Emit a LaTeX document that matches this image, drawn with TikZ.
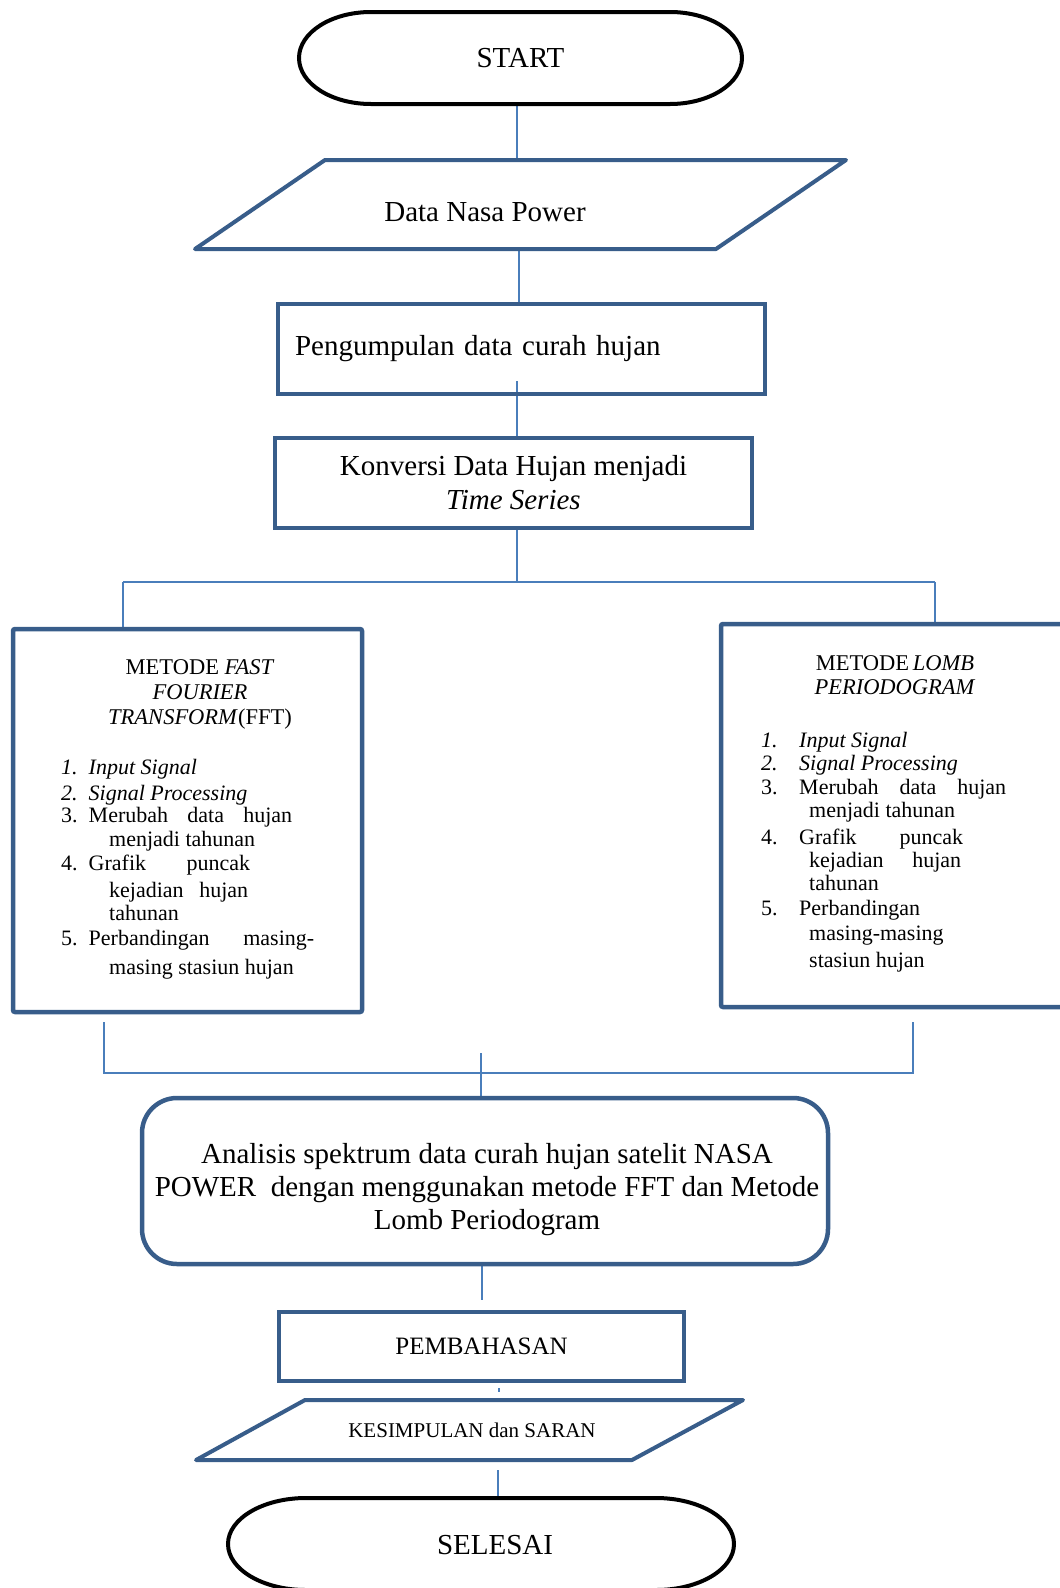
\documentclass[tikz,border=0pt]{standalone}
\usepackage{fontspec}
\setmainfont{Liberation Serif}
\usetikzlibrary{calc}
\definecolor{boxblue}{HTML}{385D8A}
\definecolor{lineblue}{HTML}{4A7EBB}
\pgfdeclarelayer{bg}
\pgfsetlayers{bg,main}
\begin{document}
\begin{tikzpicture}[x=1pt,y=-1pt,
  conn/.style={draw=lineblue,line width=1.5pt},
  bbox/.style={draw=boxblue,line width=4pt,fill=none},
  big/.style={font=\fontsize{29}{34}\selectfont},
  lst/.style={font=\fontsize{22}{25}\selectfont,inner sep=0pt,anchor=base west},
  ttl/.style={font=\fontsize{22.5}{25}\selectfont,inner sep=0pt,anchor=base},
  term/.style={draw=black,line width=4pt},
]
\useasboundingbox (0,0) rectangle (1060,1588);
\clip (0,0) rectangle (1060,1588);

% coordinates for connector ends
\coordinate (dtop) at (517,159);
\coordinate (dbot) at (519,250);
\coordinate (ax) at (517,0);
\coordinate (j1) at (517,582);
\coordinate (jl) at (123,582);
\coordinate (jr) at (935,582);
\coordinate (jbl) at (104,1073);
\coordinate (jbr) at (913,1073);
\coordinate (jc) at (481,1053);
\coordinate (pe) at (482,1300);
\coordinate (ks) at (499,1392);
\coordinate (kb) at (498,1470);
\coordinate (selt) at (481,1496);

% START
\node[big,minimum width=447pt,minimum height=96pt,inner sep=0pt] (start) at (520.5,58) {START};
\draw[term] (371,12) -- (670,12) arc[start angle=90,end angle=-90,x radius=72pt,y radius=46pt]
  -- (371,104) arc[start angle=270,end angle=90,x radius=72pt,y radius=46pt] -- cycle;

% Data Nasa Power
\draw[bbox,line join=round] (325,160) -- (846,160) -- (716,249) -- (195,249) -- cycle;
\node[big,inner sep=0pt] (data) at (485,212) {Data Nasa Power};

% Pengumpulan
\node[big,bbox,minimum width=487pt,minimum height=90pt,text width=453pt,inner xsep=17pt,align=left] (peng) at (521.5,349) {Pengumpulan data curah hujan};

% Konversi
\node[big,bbox,minimum width=477pt,minimum height=90pt,align=center] (konv) at (513.5,483) {Konversi Data Hujan menjadi\\\textit{Time Series}};

% FFT box
\node[bbox,line width=4.5pt,rounded corners=2pt,minimum width=349pt,minimum height=383pt] (fft) at (187.5,820.5) {};
\node[ttl] (ft1) at (200,674) {METODE \textit{FAST}};
\node[ttl] (ft2) at (200,699) {\textit{FOURIER}};
\node[ttl] (ft3) at (200,724) {\textit{TRANSFORM}(FFT)};
\node[lst] (f1) at (61,774) {\itshape\makebox[27.5pt][l]{1.}Input Signal};
\node[lst] (f2) at (61,800) {\itshape\makebox[27.5pt][l]{2.}Signal Processing};
\node[lst] (f3) at (61,822) {\makebox[27.5pt][l]{3.}\makebox[203.5pt][s]{Merubah data hujan}};
\node[lst] (f3b) at (109,846) {menjadi tahunan};
\node[lst] (f4) at (61,870) {\makebox[27.5pt][l]{4.}\makebox[161.5pt][s]{Grafik puncak}};
\node[lst] (f4b) at (109,897) {\makebox[139pt][s]{kejadian hujan}};
\node[lst] (f4c) at (109,920) {tahunan};
\node[lst] (f5) at (61,945) {\makebox[27.5pt][l]{5.}\makebox[225.5pt][s]{Perbandingan masing-}};
\node[lst] (f5b) at (109,974) {masing stasiun hujan};

% Lomb box
\node[bbox,line width=4.5pt,rounded corners=2pt,minimum width=354pt,minimum height=383pt] (lomb) at (898,815.5) {};
\node[ttl] (lt1) at (895,670) {METODE\,\textit{LOMB}};
\node[ttl] (lt2) at (895,694) {\textit{PERIODOGRAM}};
\node[lst] (l1) at (761,747) {\itshape\makebox[38pt][l]{1.}Input Signal};
\node[lst] (l2) at (761,770) {\itshape\makebox[38pt][l]{2.}Signal Processing};
\node[lst] (l3) at (761,794) {\makebox[38pt][l]{3.}\makebox[207pt][s]{Merubah data hujan}};
\node[lst] (l3b) at (809,817) {menjadi tahunan};
\node[lst] (l4) at (761,844) {\makebox[38pt][l]{4.}\makebox[164pt][s]{Grafik puncak}};
\node[lst] (l4b) at (809,867) {\makebox[152pt][s]{kejadian hujan}};
\node[lst] (l4c) at (809,890) {tahunan};
\node[lst] (l5) at (761,915) {\makebox[38pt][l]{5.}Perbandingan};
\node[lst] (l5b) at (809,940) {masing-masing};
\node[lst] (l5c) at (809,967) {stasiun hujan};

% Analisis
\node[bbox,line width=4.5pt,rounded corners=35pt,minimum width=686pt,minimum height=166pt] (ana) at (485,1181) {};
\node[font=\fontsize{29}{33}\selectfont,align=center,inner sep=0pt] (anat) at (487,1190)
  {Analisis spektrum data curah hujan satelit NASA\\POWER\ \ dengan menggunakan metode FFT dan Metode\\Lomb Periodogram};

% Pembahasan
\node[bbox,minimum width=405pt,minimum height=69pt,font=\fontsize{25}{29}\selectfont] (pemb) at (481.5,1346.5) {PEMBAHASAN};

% Kesimpulan
\draw[bbox,line join=round] (305,1400) -- (743,1400) -- (632,1460) -- (196,1460) -- cycle;
\node[font=\fontsize{21}{24}\selectfont,inner sep=0pt] (kes) at (472,1430) {KESIMPULAN dan SARAN};

% Selesai
\draw[term] (306,1498) -- (656,1498) arc[start angle=90,end angle=-90,x radius=78pt,y radius=46pt]
  -- (306,1590) arc[start angle=270,end angle=90,x radius=78pt,y radius=46pt] -- cycle;
\node[big,inner sep=0pt] (sel) at (495,1545) {SELESAI};

% connectors
\begin{pgfonlayer}{bg}
\draw[conn] (start.south -| dtop) -- (dtop);
\draw[conn] (dbot) -- (dbot |- peng.north);
\draw[conn] ($(peng.south -| ax)+(0,-15)$) -- (ax |- konv.north);
\draw[conn] (konv.south -| j1) -- (j1);
\draw[conn] (jl) -- (jr);
\draw[conn] (jl) -- (jl |- fft.north);
\draw[conn] (jr) -- (jr |- lomb.north);
\draw[conn] ($(fft.south -| jbl)+(0,8)$) -- (jbl) -- (jbr) -- ($(lomb.south -| jbr)+(0,13)$);
\draw[conn] (jc) -- (jc |- ana.north);
\draw[conn] (ana.south -| pe) -- (pe);
\draw[conn] ($(pemb.south -| ks)+(0,5)$) -- (ks);
\draw[conn] (kb) -- (selt -| kb);
\end{pgfonlayer}
\end{tikzpicture}
\end{document}
